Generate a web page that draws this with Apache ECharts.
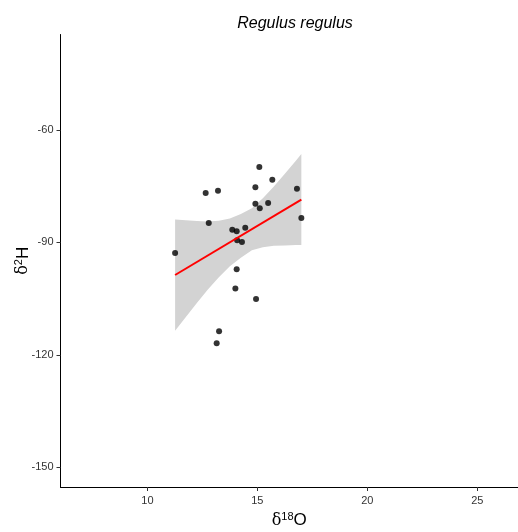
<!DOCTYPE html>
<html>
<head>
<meta charset="utf-8">
<script src="https://cdn.jsdelivr.net/npm/echarts@6/dist/echarts.min.js"></script>
<style>html,body{margin:0;padding:0;background:#fff}#c{width:518px;height:532px}</style>
</head>
<body>
<div id="c"></div>
<script>
// Observations (δ18O, δ2H)
const d18O = [11.26,12.65,13.21,12.79,15.09,15.68,14.91,16.80,14.91,15.49,15.11,17.00,13.86,14.06,14.45,14.08,14.30,14.06,14.00,14.94,13.26,13.15];
const d2H  = [-92.8,-76.8,-76.2,-84.8,-69.9,-73.3,-75.3,-75.7,-79.7,-79.5,-80.9,-83.5,-86.6,-87.0,-86.1,-89.4,-89.9,-97.2,-102.3,-105.1,-113.7,-116.9];
// Fitted line (endpoints)
const fitX = [11.26, 17.00];
const fitY = [-98.7, -78.6];
// Confidence band
const bandX     = [11.26,11.75,12.25,12.75,13.25,13.75,14.25,14.75,15.25,15.75,16.25,16.75,17.00];
const bandUpper = [-83.9,-84.1,-84.3,-84.4,-84.2,-83.6,-82.4,-80.9,-78.2,-75.1,-71.7,-68.2,-66.4];
const bandLower = [-113.6,-109.9,-106.2,-102.6,-99.3,-96.4,-94.1,-92.1,-91.3,-90.9,-90.8,-90.7,-90.7];
// Ticks
const xTicks = [10,15,20,25];
const yTicks = [-150,-120,-90,-60];

const chart = echarts.init(document.getElementById('c'));
const bandPoly = bandX.map((x,i)=>[x,bandUpper[i]]).concat(bandX.map((x,i)=>[x,bandLower[i]]).reverse());
const tickLabel = {color:'#333', fontSize:11, fontFamily:'Liberation Sans, Arial, sans-serif'};
const nameRich = {
  d:{fontFamily:'DejaVu Serif, serif', fontSize:16, color:'#000'},
  s:{fontFamily:'Liberation Sans, Arial', fontSize:11, color:'#000', padding:[0,0,8,0]},
  n:{fontFamily:'Liberation Sans, Arial', fontSize:17, color:'#000'}};
chart.setOption({
  animation:false,
  title:{text:'Regulus regulus', left:290, top:11, textAlign:'center',
    textStyle:{fontStyle:'italic', fontWeight:'normal', fontSize:16, color:'#000', fontFamily:'Liberation Sans, Arial, sans-serif'}},
  grid:{left:60.5, right:0, top:34.5, bottom:45, containLabel:false, outerBoundsMode:'none'},
  xAxis:{type:'value', min:6.05, max:26.85,
    axisLine:{lineStyle:{color:'#000', width:1}},
    axisTick:{show:true, length:4, customValues:xTicks, lineStyle:{color:'#333'}},
    axisLabel:{...tickLabel, margin:8, customValues:xTicks},
    splitLine:{show:false},
    name:'{d|δ}{s|18}{n|O}', nameLocation:'middle', nameGap:24, nameMoveOverlap:false,
    nameTextStyle:{rich:nameRich}
  },
  yAxis:{type:'value', min:-155.3, max:-34.5,
    axisLine:{show:true, lineStyle:{color:'#000', width:1}},
    axisTick:{show:true, length:4, customValues:yTicks, lineStyle:{color:'#333'}},
    axisLabel:{...tickLabel, margin:7, customValues:yTicks},
    splitLine:{show:false},
    name:'{d|δ}{s|2}{n|H}', nameLocation:'middle', nameGap:28, nameRotate:90, nameMoveOverlap:false,
    nameTextStyle:{rich:nameRich}
  },
  series:[
    {type:'custom', silent:true, z:1,
      data:[0],
      renderItem:function(params, api){
        const pts = bandPoly.map(p=>api.coord(p));
        return {type:'polygon', shape:{points:pts}, style:{fill:'#d3d3d3', stroke:null}};
      }},
    {type:'scatter', z:3, symbol:'circle', symbolSize:6, itemStyle:{color:'#000'},
      data:d18O.map((x,i)=>[x,d2H[i]])},
    {type:'line', z:4, symbol:'none', lineStyle:{color:'#ff0000', width:2},
      data:fitX.map((x,i)=>[x,fitY[i]])}
  ]
});
</script>
</body>
</html>
